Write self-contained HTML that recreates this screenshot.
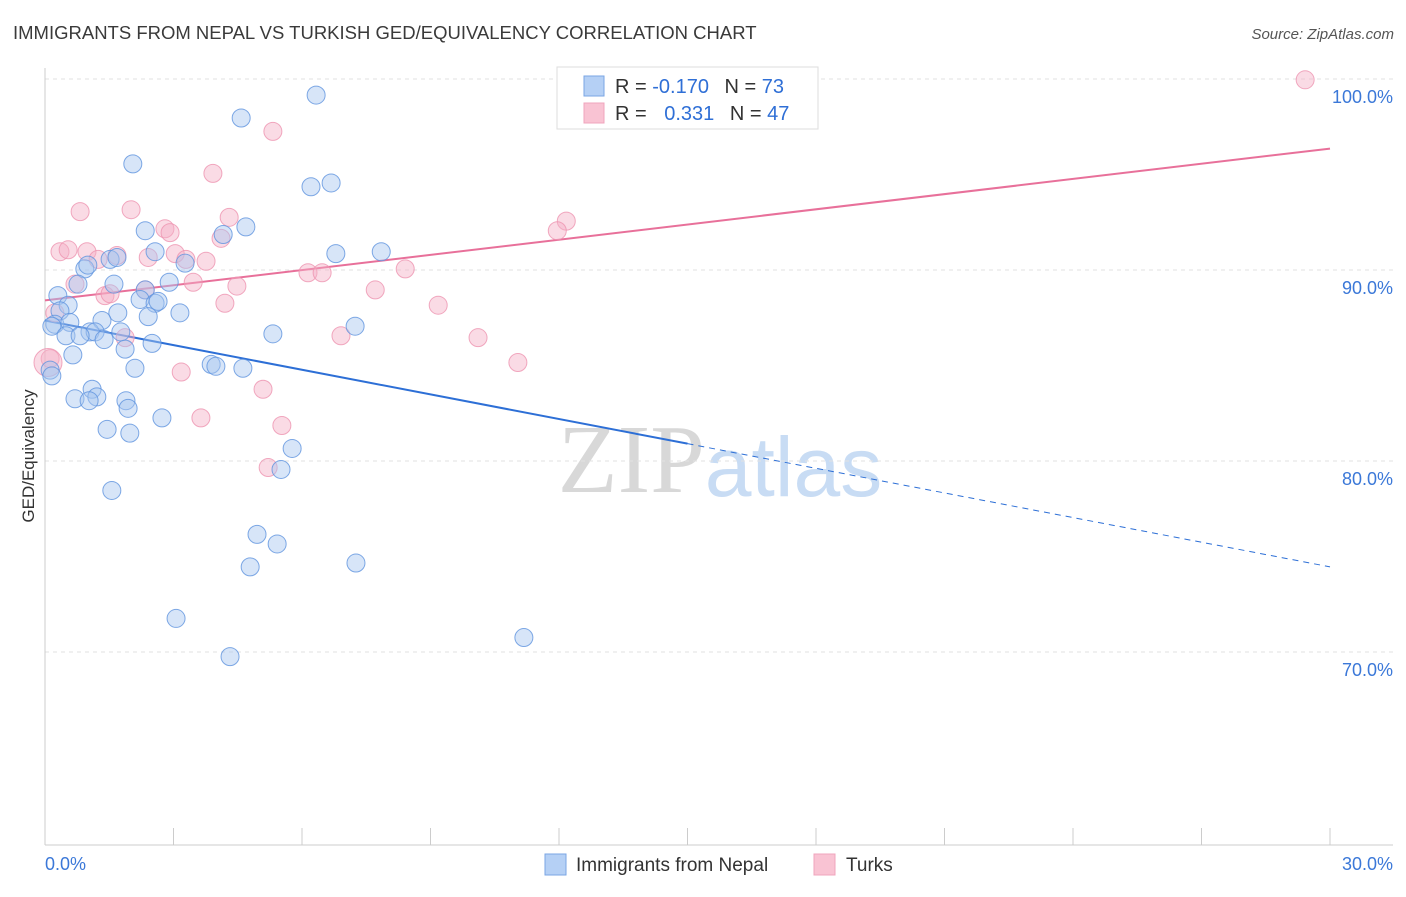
<!DOCTYPE html>
<html><head><meta charset="utf-8"><style>
body{margin:0;background:#fff;font-family:"Liberation Sans",sans-serif;}
svg text{font-family:"Liberation Sans",sans-serif;}
</style></head><body>
<svg id="chart" width="1406" height="892" xmlns="http://www.w3.org/2000/svg">
<text x="13" y="39" font-size="18.5" fill="#3a3a3a">IMMIGRANTS FROM NEPAL VS TURKISH GED/EQUIVALENCY CORRELATION CHART</text>
<text x="1394" y="39" font-size="15" fill="#555" text-anchor="end" font-style="italic">Source: ZipAtlas.com</text>
<text x="720" y="492" font-size="98" text-anchor="middle"><tspan fill="#d8d8d8" font-family="Liberation Serif">ZIP</tspan><tspan fill="#c8dcf4" font-size="84" dy="4">atlas</tspan></text>
<g id="grid"></g>
<g id="axes"></g>
<g id="lines"></g>
<g id="points"></g>
<text transform="translate(34,456) rotate(-90)" font-size="17" fill="#333" text-anchor="middle">GED/Equivalency</text>
<g>
<rect x="557" y="67" width="261" height="62" fill="#fff" stroke="#ddd"/>
<rect x="584" y="76" width="20" height="20" fill="#b5d0f5" stroke="#7aa6e4"/>
<rect x="584" y="103" width="20" height="20" fill="#f9c3d3" stroke="#f0a4bc"/>
<text x="615" y="93" font-size="20" fill="#333">R = <tspan fill="#2f6fd6">-0.170</tspan>  <tspan dx="10">N = </tspan><tspan fill="#2f6fd6">73</tspan></text>
<text x="615" y="120" font-size="20" fill="#333">R = <tspan fill="#2f6fd6" dx="12">0.331</tspan>  <tspan dx="10">N = </tspan><tspan fill="#2f6fd6">47</tspan></text>
</g>
<g>
<rect x="545" y="854" width="21" height="21" fill="#b5d0f5" stroke="#7aa6e4"/>
<text x="576" y="871" font-size="19" fill="#333">Immigrants from Nepal</text>
<rect x="814" y="854" width="21" height="21" fill="#f9c3d3" stroke="#f0a4bc"/>
<text x="846" y="871" font-size="19" fill="#333">Turks</text>
</g>
</svg>
<script>
const blueX=[6.33,4.58,2.05,6.21,6.68,2.34,4.69,4.16,2.57,6.79,7.85,1.52,1.68,0.93,1.00,3.27,0.77,1.61,0.30,2.34,2.90,0.54,0.35,2.22,2.57,2.64,3.15,1.70,2.41,1.33,0.23,0.58,0.16,7.24,5.32,1.05,1.17,0.49,0.82,1.38,1.77,2.50,1.87,0.65,3.88,3.99,4.62,2.10,0.12,0.16,1.10,1.21,0.70,1.03,1.89,1.94,2.73,1.45,1.98,5.77,5.51,1.56,4.95,5.42,7.26,4.79,3.06,11.18,4.32];
const blueY=[100.1,98.9,96.5,95.3,95.5,93.0,93.2,92.8,91.9,91.8,91.9,91.5,91.6,91.0,91.2,91.3,90.2,90.2,89.6,89.9,90.3,89.1,88.8,89.4,89.2,89.3,88.7,88.7,88.5,88.3,88.1,88.2,88.0,88.0,87.6,87.7,87.7,87.5,87.5,87.3,87.7,87.1,86.8,86.5,86.0,85.9,85.8,85.8,85.7,85.4,84.7,84.3,84.2,84.1,84.1,83.7,83.2,82.6,82.4,81.6,80.5,79.4,77.1,76.6,75.6,75.4,72.7,71.7,70.7];
const pinkX=[12.31,29.42,5.32,3.92,0.82,2.01,4.30,12.17,11.96,2.80,2.92,4.11,0.35,0.54,0.98,1.68,1.24,2.41,3.04,3.29,3.76,8.41,6.14,6.47,0.70,3.46,4.48,7.71,2.34,1.40,1.52,4.20,9.18,0.23,6.91,10.11,1.87,0.12,11.04,3.18,5.09,3.64,5.53,5.21,0.07];
const pinkY=[100.9,100.9,98.2,96.0,94.0,94.1,93.7,93.5,93.0,93.1,92.9,92.6,91.9,92.0,91.9,91.7,91.5,91.6,91.8,91.5,91.4,91.0,90.8,90.8,90.2,90.3,90.1,89.9,89.9,89.6,89.7,89.2,89.1,88.7,87.5,87.4,87.4,86.3,86.1,85.6,84.7,83.2,82.8,80.6,86.1];
const yTicks=[100,90,80,70];
const xTickLabels=["0.0%","30.0%"];
const blueLine=[88.3,-0.43];
const pinkLine=[89.35,0.265];
const NS="http://www.w3.org/2000/svg";
const xs=v=>45+v*1285/30;
const ys=v=>97+(100-v)*19.1;
function mk(tag,attrs,parent){const e=document.createElementNS(NS,tag);for(const k in attrs)e.setAttribute(k,attrs[k]);parent.appendChild(e);return e;}
const grid=document.getElementById('grid'),axes=document.getElementById('axes'),lines=document.getElementById('lines'),pts=document.getElementById('points');
yTicks.forEach(t=>{
 const g=mk('line',{x1:45,x2:1393,y1:ys(t)-18,y2:ys(t)-18,stroke:'#e2e2e2','stroke-dasharray':'4,4'},grid);
 
 
 const tx=mk('text',{x:1393,y:ys(t)+6,'font-size':18,fill:'#3b78d8','text-anchor':'end'},grid);
 tx.textContent=t.toFixed(1)+'%';
 
 
});
mk('line',{x1:45,x2:45,y1:68,y2:845,stroke:'#ccc'},axes);
mk('line',{x1:45,x2:1393,y1:845,y2:845,stroke:'#ccc'},axes);
for(let k=0;k<=10;k++){const x=xs(k*3);mk('line',{x1:x,x2:x,y1:828,y2:845,stroke:'#ccc'},axes);}
const l0=mk('text',{x:45,y:870,'font-size':18,fill:'#3b78d8'},axes);l0.textContent=xTickLabels[0];


const l1=mk('text',{x:1393,y:870,'font-size':18,fill:'#3b78d8','text-anchor':'end'},axes);l1.textContent=xTickLabels[1];


function drawPts(X,Y,fill,stroke,name){X.forEach((x,i)=>{const c=mk('circle',{cx:xs(x),cy:ys(Y[i]),r:(name==='turks-point'&&i===X.length-1)?14:9,fill:fill,'fill-opacity':0.45,stroke:stroke,'stroke-opacity':0.8,'stroke-width':1},pts);

});}
drawPts(pinkX,pinkY,'#f5b0c6','#ee93b0','turks-point');
drawPts(blueX,blueY,'#a6c6f0','#5f93df','nepal-point');
const bl=mk('line',{x1:xs(0),y1:ys(blueLine[0]),x2:xs(15),y2:ys(blueLine[0]+blueLine[1]*15),stroke:'#2d6fd6','stroke-width':2},lines);


const bd=mk('line',{x1:xs(15),y1:ys(blueLine[0]+blueLine[1]*15),x2:xs(30),y2:ys(blueLine[0]+blueLine[1]*30),stroke:'#2d6fd6','stroke-width':1,'stroke-dasharray':'6,5'},lines);


const pl=mk('line',{x1:xs(0),y1:ys(pinkLine[0]),x2:xs(30),y2:ys(pinkLine[0]+pinkLine[1]*30),stroke:'#e8709a','stroke-width':2},lines);


</script>
</body></html>
